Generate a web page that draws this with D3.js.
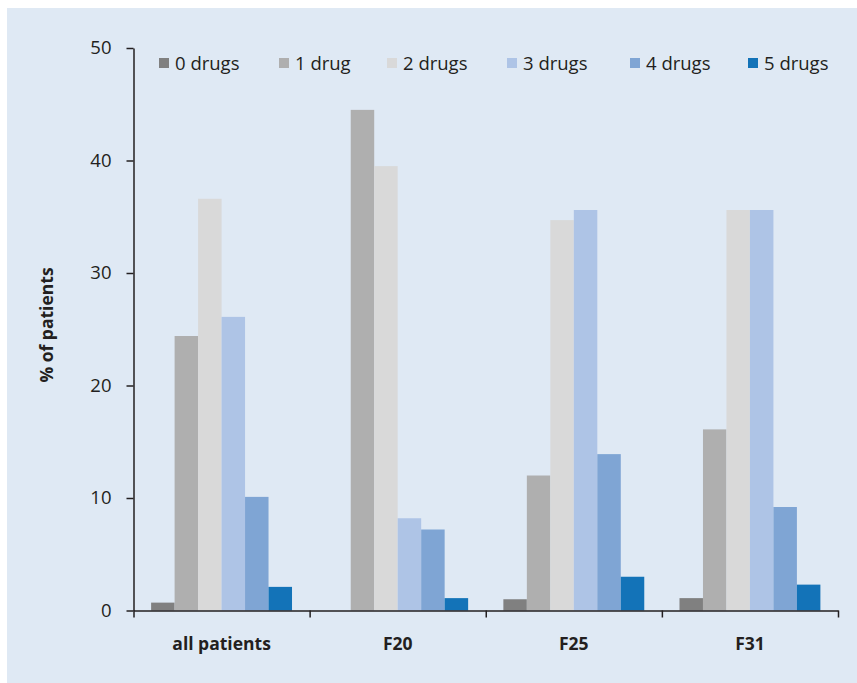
<!DOCTYPE html>
<html><head><meta charset="utf-8">
<script src="https://cdn.jsdelivr.net/npm/d3@7"></script>
<style>html,body{margin:0;padding:0;background:#fff;}svg{display:block;}</style>
</head><body>
<svg id="chart" width="857" height="683"></svg>
<script>
const categories = ["all patients", "F20", "F25", "F31"];
const seriesNames = ["0 drugs", "1 drug", "2 drugs", "3 drugs", "4 drugs", "5 drugs"];
const drugs0 = [0.7, 0, 1.0, 1.1];
const drugs1 = [24.4, 44.5, 12.0, 16.1];
const drugs2 = [36.6, 39.5, 34.7, 35.6];
const drugs3 = [26.1, 8.2, 35.6, 35.6];
const drugs4 = [10.1, 7.2, 13.9, 9.2];
const drugs5 = [2.1, 1.1, 3.0, 2.3];
const yTicks = [0, 10, 20, 30, 40, 50];
const colors = ["#808080", "#afafaf", "#d9d9d9", "#aec4e6", "#7fa5d4", "#1373b8"];

const seriesValues = [drugs0, drugs1, drugs2, drugs3, drugs4, drugs5];

const svg = d3.select("#chart");
svg.append("rect").attr("x", 7).attr("y", 8).attr("width", 850).attr("height", 675).attr("fill", "#dfe9f4");

const x0 = 133.5, x1 = 838, yTop = 48, yBot = 610.5;
const x = d3.scaleBand().domain(categories).range([x0, x1]).padding(0);
const xs = d3.scaleBand().domain(seriesNames).range([x.bandwidth() * 0.1, x.bandwidth() * 0.9]).padding(0);
const y = d3.scaleLinear().domain([0, 50]).range([yBot, yTop]);

const font = "'Open Sans', 'Noto Sans', sans-serif";

// bars
categories.forEach((c, ci) => {
  const g = svg.append("g").attr("transform", `translate(${x(c)},0)`);
  g.selectAll("rect").data(seriesNames.map((s, si) => ({s, v: seriesValues[si][ci], col: colors[si]})))
    .join("rect")
    .attr("x", d => xs(d.s))
    .attr("width", xs.bandwidth())
    .attr("y", d => y(d.v))
    .attr("height", d => y(0) - y(d.v))
    .attr("fill", d => d.col);
});

// y axis
const yAxis = svg.append("g").attr("transform", `translate(${x0},0)`)
  .call(d3.axisLeft(y).tickValues(yTicks).tickSize(7).tickSizeOuter(0).tickPadding(15));
yAxis.selectAll("path,line").attr("stroke", "#231f20").attr("stroke-width", 1.5);
yAxis.selectAll("text").attr("font-family", font).attr("font-size", 18.5).attr("fill", "#231f20");

// x axis boundary ticks
const xb = d3.scaleLinear().domain([0, categories.length]).range([x0, x1]);
const xAxis = svg.append("g").attr("transform", `translate(0,${yBot})`)
  .call(d3.axisBottom(xb).ticks(categories.length).tickFormat("").tickSize(7).tickSizeOuter(0));
xAxis.selectAll("path,line").attr("stroke", "#231f20").attr("stroke-width", 1.5);

// x labels
const xLab = svg.append("g").attr("transform", `translate(0,${yBot})`)
  .call(d3.axisBottom(x).tickSize(0).tickPadding(27));
xLab.select(".domain").remove();
xLab.selectAll("text").attr("font-family", font).attr("font-size", 17.5).attr("font-weight", "bold").attr("fill", "#231f20");

// y title
svg.append("text").attr("transform", "translate(53,325) rotate(-90)")
  .attr("text-anchor", "middle").attr("font-family", font).attr("font-size", 17.5).attr("font-weight", "bold")
  .attr("fill", "#231f20").text("% of patients");

// legend
const legendX = [159, 279, 387, 507, 630, 748];
const leg = svg.append("g");
seriesNames.forEach((s, i) => {
  leg.append("rect").attr("x", legendX[i]).attr("y", 58).attr("width", 10).attr("height", 10).attr("fill", colors[i]);
  leg.append("text").attr("x", legendX[i] + 16).attr("y", 70).attr("font-family", font).attr("font-size", 18.5)
    .attr("fill", "#231f20").text(s);
});
</script>
</body></html>
